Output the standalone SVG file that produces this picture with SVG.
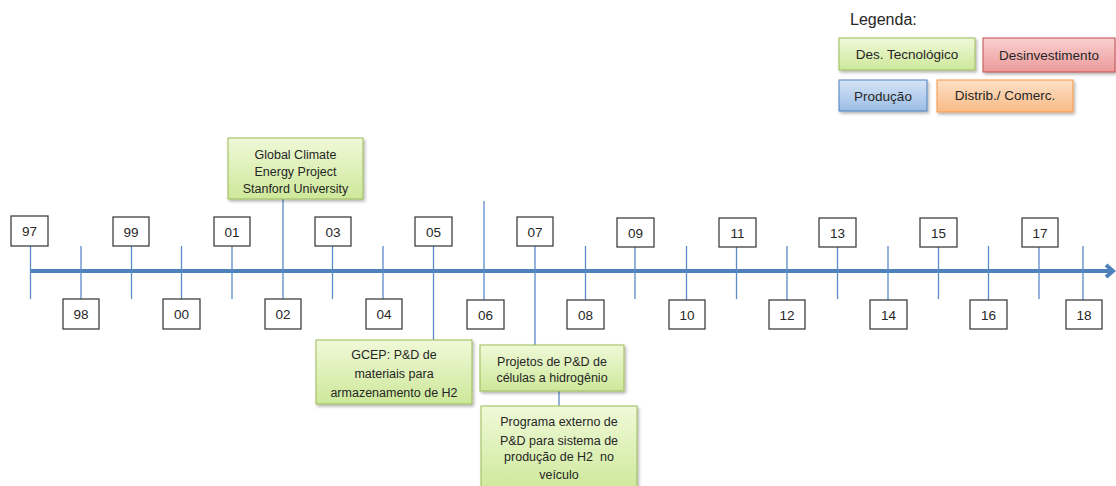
<svg xmlns="http://www.w3.org/2000/svg" width="1116" height="486" viewBox="0 0 1116 486">
  <style>
    .yr rect { fill: #ffffff; stroke: #404040; stroke-width: 1.3; }
    .yr text { font-family: "Liberation Sans", Arial, sans-serif; font-size: 13.5px; fill: #262626; text-anchor: middle; }
    .tick { stroke: #5b8ac6; stroke-width: 1.3; fill: none; }
    .axis { stroke: #4f81bd; stroke-width: 4; fill: none; }
    .note rect { fill: url(#gGreen); stroke: #9bbb59; stroke-width: 1; filter: url(#shadow); }
    .note text, .lg text { font-family: "Liberation Sans", Arial, sans-serif; font-size: 12.5px; fill: #262626; text-anchor: middle; }
    .lg text { font-size: 13.5px; }
  </style>
  <defs>
    <linearGradient id="gGreen" x1="0" y1="0" x2="0" y2="1">
      <stop offset="0" stop-color="#f0f9d8"/>
      <stop offset="1" stop-color="#cde89a"/>
    </linearGradient>
    <linearGradient id="gRed" x1="0" y1="0" x2="0" y2="1">
      <stop offset="0" stop-color="#f9d0d0"/>
      <stop offset="1" stop-color="#ec9a9a"/>
    </linearGradient>
    <linearGradient id="gBlue" x1="0" y1="0" x2="0" y2="1">
      <stop offset="0" stop-color="#d6e4f6"/>
      <stop offset="1" stop-color="#9bbde6"/>
    </linearGradient>
    <linearGradient id="gOrange" x1="0" y1="0" x2="0" y2="1">
      <stop offset="0" stop-color="#fde0c6"/>
      <stop offset="1" stop-color="#f9bb86"/>
    </linearGradient>
    <filter id="shadow" x="-10%" y="-10%" width="130%" height="140%">
      <feDropShadow dx="1.5" dy="2" stdDeviation="1.5" flood-color="#000" flood-opacity="0.3"/>
    </filter>
  </defs>

  <!-- legend -->
  <g id="legend" class="lg">
    <text x="850" y="25" style="font-size:16px;text-anchor:start">Legenda:</text>
    <rect x="839" y="38" width="136" height="32" fill="url(#gGreen)" stroke="#9bbb59" filter="url(#shadow)"/>
    <text x="907" y="59">Des. Tecnológico</text>
    <rect x="983" y="38" width="132" height="34" fill="url(#gRed)" stroke="#c0504d" filter="url(#shadow)"/>
    <text x="1049" y="60">Desinvestimento</text>
    <rect x="839" y="80" width="88" height="31" fill="url(#gBlue)" stroke="#4f81bd" filter="url(#shadow)"/>
    <text x="883" y="101">Produção</text>
    <rect x="937" y="80" width="136" height="32" fill="url(#gOrange)" stroke="#f79646" filter="url(#shadow)"/>
    <text x="1005" y="100">Distrib./ Comerc.</text>
  </g>

  <!-- axis, ticks and leader lines -->
  <g id="connectors">
    <line class="axis" x1="30" y1="271" x2="1112" y2="271"/>
    <polyline class="axis" points="1106,265 1113,271 1106,277" stroke-linejoin="miter"/>
    <line class="tick" x1="30.5" y1="246" x2="30.5" y2="299"/>
    <line class="tick" x1="81" y1="246" x2="81" y2="300"/>
    <line class="tick" x1="131.5" y1="246" x2="131.5" y2="299"/>
    <line class="tick" x1="181.5" y1="246" x2="181.5" y2="300"/>
    <line class="tick" x1="232" y1="246" x2="232" y2="299"/>
    <line class="tick" x1="283" y1="199" x2="283" y2="300"/>
    <line class="tick" x1="332.5" y1="246" x2="332.5" y2="299"/>
    <line class="tick" x1="383" y1="246" x2="383" y2="300"/>
    <line class="tick" x1="433.5" y1="246" x2="433.5" y2="340"/>
    <line class="tick" x1="484" y1="201" x2="484" y2="300"/>
    <line class="tick" x1="535" y1="246" x2="535" y2="345"/>
    <line class="tick" x1="585.5" y1="246" x2="585.5" y2="300"/>
    <line class="tick" x1="635" y1="246" x2="635" y2="299"/>
    <line class="tick" x1="686.5" y1="246" x2="686.5" y2="300"/>
    <line class="tick" x1="736.5" y1="246" x2="736.5" y2="299"/>
    <line class="tick" x1="787" y1="246" x2="787" y2="300"/>
    <line class="tick" x1="837.5" y1="246" x2="837.5" y2="299"/>
    <line class="tick" x1="888" y1="246" x2="888" y2="300"/>
    <line class="tick" x1="938.5" y1="246" x2="938.5" y2="299"/>
    <line class="tick" x1="988.5" y1="246" x2="988.5" y2="300"/>
    <line class="tick" x1="1039" y1="246" x2="1039" y2="299"/>
    <line class="tick" x1="1083" y1="246" x2="1083" y2="300"/>
    <line class="tick" x1="559" y1="391" x2="559" y2="406"/>
  </g>

  <!-- year markers above the axis -->
  <g id="y97" class="yr"><rect x="11" y="216" width="37" height="30"/><text x="29.5" y="236">97</text></g>
  <g id="y99" class="yr"><rect x="113" y="217" width="36" height="29"/><text x="131" y="237">99</text></g>
  <g id="y01" class="yr"><rect x="214" y="217" width="36" height="29"/><text x="232" y="237">01</text></g>
  <g id="y03" class="yr"><rect x="315" y="217" width="36" height="29"/><text x="333" y="237">03</text></g>
  <g id="y05" class="yr"><rect x="415" y="217" width="37" height="29"/><text x="433.5" y="237">05</text></g>
  <g id="y07" class="yr"><rect x="517" y="217" width="36" height="29"/><text x="535" y="237">07</text></g>
  <g id="y09" class="yr"><rect x="617" y="218" width="37" height="29"/><text x="635.5" y="238">09</text></g>
  <g id="y11" class="yr"><rect x="719" y="218" width="37" height="29"/><text x="737.5" y="238">11</text></g>
  <g id="y13" class="yr"><rect x="819" y="218" width="37" height="29"/><text x="837.5" y="238">13</text></g>
  <g id="y15" class="yr"><rect x="920" y="218" width="37" height="29"/><text x="938.5" y="238">15</text></g>
  <g id="y17" class="yr"><rect x="1022" y="218" width="36" height="29"/><text x="1040" y="238">17</text></g>

  <!-- year markers below the axis -->
  <g id="y98" class="yr"><rect x="63" y="299" width="36" height="30"/><text x="81" y="319">98</text></g>
  <g id="y00" class="yr"><rect x="163" y="299" width="37" height="30"/><text x="181.5" y="319">00</text></g>
  <g id="y02" class="yr"><rect x="265" y="299" width="36" height="30"/><text x="283" y="319">02</text></g>
  <g id="y04" class="yr"><rect x="366" y="299" width="36" height="30"/><text x="384" y="319">04</text></g>
  <g id="y06" class="yr"><rect x="467" y="300" width="37" height="29"/><text x="485.5" y="320">06</text></g>
  <g id="y08" class="yr"><rect x="567" y="300" width="37" height="29"/><text x="585.5" y="320">08</text></g>
  <g id="y10" class="yr"><rect x="669" y="300" width="36" height="29"/><text x="687" y="320">10</text></g>
  <g id="y12" class="yr"><rect x="769" y="300" width="36" height="29"/><text x="787" y="320">12</text></g>
  <g id="y14" class="yr"><rect x="870" y="300" width="37" height="29"/><text x="888.5" y="320">14</text></g>
  <g id="y16" class="yr"><rect x="970" y="300" width="37" height="29"/><text x="988.5" y="320">16</text></g>
  <g id="y18" class="yr"><rect x="1066" y="300" width="36" height="29"/><text x="1084" y="320">18</text></g>

  <!-- event notes -->
  <g id="gcep-project" class="note">
    <rect x="228" y="138" width="135" height="61"/>
    <text x="295.5" y="159">Global Climate</text>
    <text x="295.5" y="175.5">Energy Project</text>
    <text x="295.5" y="193">Stanford University</text>
  </g>
  <g id="gcep-storage" class="note">
    <rect x="316" y="340" width="156" height="64"/>
    <text x="394" y="359">GCEP: P&amp;D de</text>
    <text x="394" y="377.5">materiais para</text>
    <text x="394" y="396.5">armazenamento de H2</text>
  </g>
  <g id="fuel-cells" class="note">
    <rect x="480" y="345" width="144" height="46"/>
    <text x="552" y="365.5">Projetos de P&amp;D de</text>
    <text x="552" y="381.5">células a hidrogênio</text>
  </g>
  <g id="onboard-h2" class="note">
    <rect x="481" y="406" width="156" height="86"/>
    <text x="559" y="425.5">Programa externo de</text>
    <text x="559" y="444.5">P&amp;D para sistema de</text>
    <text x="559" y="460.5">produção de H2&#160; no</text>
    <text x="559" y="478.5">veículo</text>
  </g>
</svg>
